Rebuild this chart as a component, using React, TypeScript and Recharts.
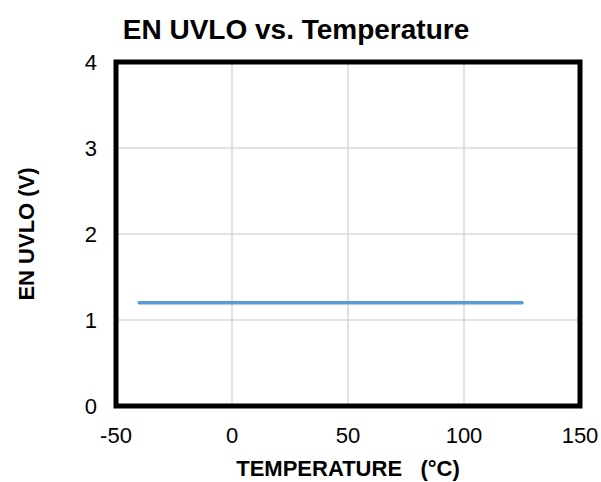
import React from "react"
import {
  CartesianGrid,
  Label,
  Line,
  LineChart,
  ReferenceArea,
  XAxis,
  YAxis,
} from "recharts"

// EN UVLO threshold vs. temperature
const temperatures = [-40, -20, 0, 25, 50, 75, 100, 125]
const uvloVolts = [1.2, 1.2, 1.2, 1.2, 1.2, 1.2, 1.2, 1.2]
const xTicks = [-50, 0, 50, 100, 150]
const yTicks = [0, 1, 2, 3, 4]

const data = temperatures.map((t, i) => ({ temp: t, uvlo: uvloVolts[i] }))

const FONT = "Arial, 'Liberation Sans', sans-serif"
const tick = { fontSize: 22, fill: "#000", fontFamily: FONT }
const axisTitle = { fontFamily: FONT, fontWeight: "bold", fontSize: 22, fill: "#000" }

export default function App() {
  return (
    <div style={{ position: "absolute", left: 0, top: 0, width: 601, height: 482, background: "#fff" }}>
      <svg
        width={601}
        height={50}
        style={{ position: "absolute", left: 0, top: 0 }}
      >
        <text
          x={296}
          y={39}
          textAnchor="middle"
          fontFamily={FONT}
          fontWeight="bold"
          fontSize={28}
          fill="#000"
        >
          EN UVLO vs. Temperature
        </text>
      </svg>
      <LineChart
        width={601}
        height={482}
        data={data}
        margin={{ top: 62, right: 21, bottom: 46, left: 86 }}
      >
        <CartesianGrid stroke="#d9d9d9" strokeWidth={1.5} />
        <XAxis
          type="number"
          dataKey="temp"
          domain={[-50, 150]}
          ticks={xTicks}
          tick={tick}
          tickLine={false}
          axisLine={false}
          tickMargin={15}
          height={30}
        >
          <Label
            value={"TEMPERATURE\u00a0\u00a0\u00a0(°C)"}
            position="bottom"
            offset={24}
            style={axisTitle}
          />
        </XAxis>
        <YAxis
          type="number"
          domain={[0, 4]}
          ticks={yTicks}
          tick={tick}
          tickLine={false}
          axisLine={false}
          tickMargin={13}
          width={30}
        >
          <Label
            value="EN UVLO (V)"
            angle={-90}
            position="left"
            offset={60}
            style={{ ...axisTitle, textAnchor: "middle" }}
          />
        </YAxis>
        <Line
          type="linear"
          dataKey="uvlo"
          stroke="#5b9bd5"
          strokeWidth={3.5}
          strokeLinecap="round"
          dot={false}
          isAnimationActive={false}
        />
        <ReferenceArea
          x1={-50}
          x2={150}
          y1={0}
          y2={4}
          fill="none"
          stroke="#000"
          strokeWidth={5}
          ifOverflow="visible"
        />
      </LineChart>
    </div>
  )
}
